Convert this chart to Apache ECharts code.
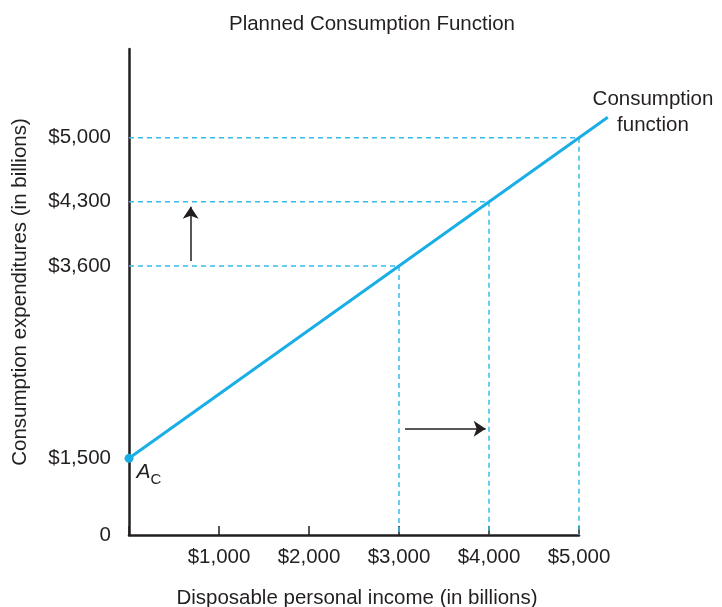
<!DOCTYPE html>
<html><head><meta charset="utf-8">
<script src="https://cdn.jsdelivr.net/npm/echarts@6/dist/echarts.min.js"></script>
<style>html,body{margin:0;padding:0;background:#fff}#c{width:722px;height:607px}</style>
</head><body><div id="c"></div>
<script>
const xTicks = [1000, 2000, 3000, 4000, 5000];
const yTickValues = [1500, 3600, 4300, 5000];
const xAxisMax = 5000, lineXMax = 5320;
const yAxisMin = 663, yAxisMax = 5968;
const consumptionLine = [[0, 1500], [5000, 5000], [5320, 5224]];
const autonomousPoint = [0, 1500];
const guideIncome = [3000, 4000, 5000];
const guideConsumption = [3600, 4300, 5000];
const upArrow = [[685, 3654], [685, 4247]];
const rightArrow = [[3067, 1823], [3963, 1823]];

const FONT = 'Liberation Sans, Arial, sans-serif';
const TXT = '#231f20';
const BLUE = '#1aaee6';
const DASH = '#35bde9';
const FS = 20.5;

function money(v){ return '$' + v.toLocaleString('en-US'); }

// layout: 0 at x=129, 5000 at x=579
const GL = 129, GR = 143, GT = 49, GB = 72;
const pxPerUnit = (722 - GL - GR) / xAxisMax;
const GR2 = 722 - GL - lineXMax * pxPerUnit;

const guideSeries = [];
guideIncome.forEach((x, i) => {
  const y = guideConsumption[i];
  guideSeries.push({
    type: 'line', data: [[0, y], [x, y], [x, yAxisMin]], symbol: 'none', silent: true, clip: false,
    lineStyle: { color: DASH, width: 1.5, type: [5, 4] }, z: 1
  });
});

const chart = echarts.init(document.getElementById('c'), null, { renderer: 'canvas' });
chart.setOption({
  animation: false,
  textStyle: { fontFamily: FONT, color: TXT },
  title: {
    text: 'Planned Consumption Function', left: 367, top: 9, textAlign: 'center',
    textStyle: { fontFamily: FONT, fontSize: FS, fontWeight: 'normal', color: TXT }
  },
  grid: [
    { left: GL, right: GR, top: GT, bottom: GB, containLabel: false, outerBoundsMode: 'none' },
    { left: GL, right: GR2, top: GT, bottom: GB, containLabel: false, outerBoundsMode: 'none' }
  ],
  xAxis: [{
    type: 'value', gridIndex: 0, min: 0, max: xAxisMax, interval: 1000,
    name: 'Disposable personal income (in billions)', nameLocation: 'middle', nameGap: 53,
    nameTextStyle: { fontFamily: FONT, fontSize: FS, color: TXT, padding: [0, 0, 0, 6] },
    axisLine: { show: true, onZero: false, lineStyle: { color: TXT, width: 2.5 } },
    axisTick: { show: true, inside: true, length: 9, lineStyle: { color: TXT, width: 1.5 } },
    axisLabel: { fontFamily: FONT, fontSize: FS, color: TXT, margin: 12,
      formatter: v => xTicks.indexOf(v) >= 0 ? money(v) : '' },
    splitLine: { show: false }
  }, {
    type: 'value', gridIndex: 1, min: 0, max: lineXMax, show: false
  }],
  yAxis: [{
    type: 'value', gridIndex: 0, min: yAxisMin, max: yAxisMax,
    name: 'Consumption expenditures (in billions)', nameLocation: 'middle', nameGap: 98,
    nameTextStyle: { fontFamily: FONT, fontSize: FS, color: TXT },
    axisLine: { show: true, onZero: false, lineStyle: { color: TXT, width: 2.5 } },
    axisTick: { show: false },
    axisLabel: { fontFamily: FONT, fontSize: FS, color: TXT, margin: 18, padding: [5, 0, 0, 0],
      customValues: [yAxisMin].concat(yTickValues),
      formatter: v => v === yAxisMin ? '0' : money(v) },
    splitLine: { show: false }
  }, {
    type: 'value', gridIndex: 1, min: yAxisMin, max: yAxisMax, show: false
  }],
  series: guideSeries.concat([
    {
      type: 'line', xAxisIndex: 1, yAxisIndex: 1, clip: false, symbol: 'none', z: 3,
      lineStyle: { color: BLUE, width: 3 },
      data: consumptionLine
    },
    {
      type: 'scatter', clip: false, z: 2, symbolSize: 0, itemStyle: { color: TXT, opacity: 1 }, silent: true,
      data: [consumptionLine[1]],
      label: { show: true, formatter: 'Consumption\nfunction', position: 'top', offset: [74, 6],
        align: 'center', fontFamily: FONT, fontSize: FS, lineHeight: 26, color: TXT }
    },
    {
      type: 'scatter', clip: false, z: 4, symbolSize: 9, itemStyle: { color: BLUE, opacity: 1 },
      data: [autonomousPoint],
      label: { show: true, position: 'right', offset: [-2, 14], formatter: '{a|A}{c|C}',
        rich: { a: { fontFamily: FONT, fontSize: 21, fontStyle: 'italic', color: TXT },
                c: { fontFamily: FONT, fontSize: 15, color: TXT, padding: [16, 0, 0, 0] } } }
    },
    {
      type: 'lines', coordinateSystem: 'cartesian2d', z: 5, silent: true,
      symbol: ['none', 'arrow'], symbolSize: [0, 12],
      lineStyle: { color: TXT, width: 1.5, opacity: 1 },
      data: [{ coords: upArrow }, { coords: rightArrow }]
    }
  ])
});
</script></body></html>
